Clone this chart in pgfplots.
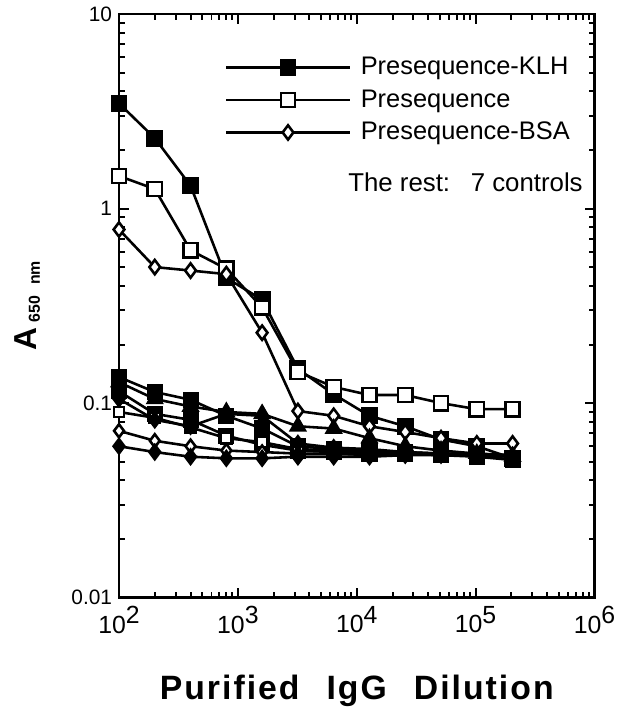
\documentclass[border=0pt]{standalone}
\usepackage{fontspec}
\setmainfont{Liberation Sans}
\usepackage{pgfplots}
\pgfplotsset{compat=1.18}

% dilution series: 100, 200, ..., 204800
\pgfplotstableread{
x      klh    pre    bsa    c1     c2     c3     c4     c5     c6     c7
100    3.47   1.47   0.78   0.136  0.128  0.115  0.090  0.105  0.072  0.060
200    2.30   1.26   0.50   0.114  0.105  0.088  0.084  0.082  0.064  0.056
400    1.31   0.61   0.48   0.104  0.096  0.082  0.075  0.076  0.060  0.053
800    0.44   0.49   0.46   0.086  0.090  0.068  0.066  0.088  0.057  0.052
1600   0.34   0.31   0.23   0.074  0.088  0.061  0.063  0.086  0.056  0.052
3200   0.15   0.145  0.091  0.060  0.076  0.057  0.058  0.062  0.055  0.053
6400   0.111  0.121  0.086  0.058  0.074  0.056  0.057  0.059  0.055  0.053
12800  0.086  0.110  0.076  0.057  0.066  0.055  0.056  0.058  0.054  0.053
25600  0.076  0.110  0.071  0.056  0.060  0.055  0.055  0.056  0.055  0.054
51200  0.065  0.100  0.066  0.055  0.057  0.054  0.054  0.055  0.055  0.054
102400 0.060  0.093  0.062  0.054  0.055  0.053  0.054  0.054  0.055  0.054
204800 0.052  0.093  0.062  0.051  0.053  0.051  0.053  0.053  0.054  0.054
}\data

\begin{document}
\begin{tikzpicture}
\begin{axis}[
  scale only axis,
  width=239.5pt, height=294pt,
  xmode=log, ymode=log,
  xmin=100, xmax=1000000, ymin=0.01, ymax=10,
  axis line style={line width=1.2pt},
  every tick/.style={line width=1pt, black},
  tick align=inside,
  major tick length=5pt, minor tick length=3pt,
  xtick={100,1000,10000,100000,1000000},
  xticklabels={10\raisebox{0.7ex}{2},10\raisebox{0.7ex}{3},10\raisebox{0.7ex}{4},10\raisebox{0.7ex}{5},10\raisebox{0.7ex}{6}},
  ytick={0.01,0.1,1,10},
  yticklabels={0.01,0.1,1,10},
  xticklabel style={font=\fontsize{12.5}{14}\selectfont, yshift=-1pt},
  yticklabel style={font=\fontsize{10.5}{12}\selectfont},
  xlabel={\bfseries\addfontfeatures{LetterSpace=6}Purified\hspace{0.8em}IgG\hspace{0.8em}Dilution},
  xlabel style={font=\fontsize{17}{20}\selectfont, yshift=-14pt},
  ylabel={\bfseries\fontsize{16}{18}\selectfont A\,\raisebox{-0.2ex}{\fontsize{8}{9}\selectfont 650\hspace{0.7em}nm}},
  ylabel style={yshift=9pt},
  legend style={draw=none, fill=none, at={(rel axis cs:0.21,0.94)}, anchor=north west,
    font=\fontsize{12.8}{15}\selectfont, row sep=2pt, column sep=3pt},
  legend cell align=left,
  legend image code/.code={
    \draw[#1, mark repeat=2, mark phase=2] plot coordinates {(0pt,0pt) (31pt,0pt) (62pt,0pt)};},
  every axis plot/.append style={line width=1.3pt, black, mark options={solid, line width=1.1pt}},
]
\addplot[mark=square*, mark size=3.6pt, mark options={fill=black}] table[x=x, y=klh] {\data};
\addlegendentry{Presequence-KLH}
\addplot[mark=square*, mark size=3.6pt, mark options={fill=white}] table[x=x, y=pre] {\data};
\addlegendentry{Presequence}
\addplot[mark=diamond*, mark size=3.6pt, mark options={fill=white}] table[x=x, y=bsa] {\data};
\addlegendentry{Presequence-BSA}

\addplot[forget plot, mark=square*, mark size=3.4pt, mark options={fill=black}] table[x=x, y=c1] {\data};
\addplot[forget plot, mark=triangle*, mark size=4pt, mark options={fill=black}] table[x=x, y=c2] {\data};
\addplot[forget plot, mark=square*, mark size=3.4pt, mark options={fill=black}] table[x=x, y=c3] {\data};
\addplot[forget plot, mark=square*, mark size=2.6pt, mark options={fill=white}] table[x=x, y=c4] {\data};
\addplot[forget plot, mark=diamond*, mark size=3.6pt, mark options={fill=black}] table[x=x, y=c5] {\data};
\addplot[forget plot, mark=diamond*, mark size=3.3pt, mark options={fill=white}] table[x=x, y=c6] {\data};
\addplot[forget plot, mark=diamond*, mark size=3.6pt, mark options={fill=black}] table[x=x, y=c7] {\data};

\node[anchor=east, font=\fontsize{13}{15}\selectfont] at (rel axis cs:0.99,0.712) {The rest:\hspace{0.8em}7 controls};
\end{axis}
% widen the page to the reference margins
\path ([xshift=-4pt]current bounding box.west) ([xshift=10pt]current bounding box.east);
\end{tikzpicture}
\end{document}
